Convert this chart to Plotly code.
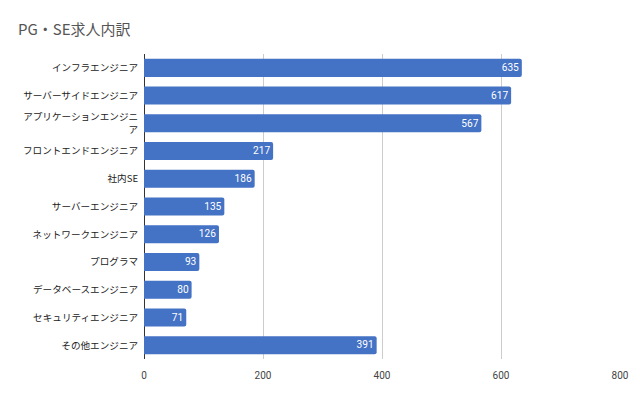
import plotly.graph_objects as go

categories = ["インフラエンジニア", "サーバーサイドエンジニア", "アプリケーションエンジニ<br>ア",
              "フロントエンドエンジニア", "社内SE", "サーバーエンジニア", "ネットワークエンジニア",
              "プログラマ", "データベースエンジニア", "セキュリティエンジニア", "その他エンジニア"]
values = [635, 617, 567, 217, 186, 135, 126, 93, 80, 71, 391]
tick_vals = [0, 200, 400, 600, 800]

fig = go.Figure(go.Bar(
    y=categories, x=values, orientation="h",
    marker=dict(color="#4472c4", line=dict(width=0)),
    text=[str(v) for v in values], textposition="inside", insidetextanchor="end",
    textangle=0,
    textfont=dict(color="white", size=11, family="Roboto, Noto Sans CJK JP"),
    width=0.65,
))
fig.update_layout(
    width=640, height=396,
    margin=dict(l=136, r=28, t=46, b=45, autoexpand=False),
    paper_bgcolor="white", plot_bgcolor="white",
    barcornerradius=2,
    font=dict(family="Noto Sans CJK JP, sans-serif", color="#333"),
    title=dict(text="PG・SE求人内訳", x=10/640, xanchor="left", y=1-22/396, yanchor="middle",
               font=dict(size=15, color="#555")),
    showlegend=False,
)
fig.update_xaxes(range=[0, 800], tickvals=tick_vals, showgrid=True, gridcolor="#cccccc",
                 zeroline=True, zerolinecolor="#333333", zerolinewidth=1, automargin=False,
                 ticks="outside", ticklen=7, tickcolor="rgba(0,0,0,0)",
                 tickfont=dict(size=10, color="#444", family="Roboto, Noto Sans CJK JP"))
fig.update_yaxes(autorange="reversed", tickfont=dict(size=9.6, color="#222"), automargin=False,
                 ticks="outside", ticklen=3, tickcolor="rgba(0,0,0,0)")
fig.write_html("out.html")
